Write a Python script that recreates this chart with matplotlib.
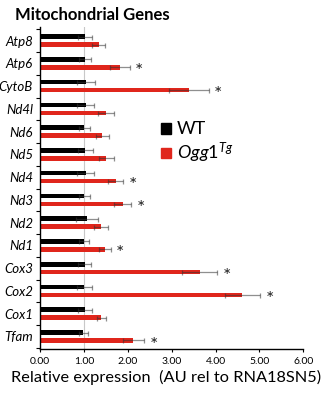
import numpy as np
import matplotlib
matplotlib.use("Agg")
import matplotlib.pyplot as plt
from matplotlib.patches import Patch

### DATA ###
genes = ["Atp8", "Atp6", "CytoB", "Nd4l", "Nd6", "Nd5", "Nd4",
         "Nd3", "Nd2", "Nd1", "Cox3", "Cox2", "Cox1", "Tfam"]
wt_mean = [1.02, 1.02, 1.05, 1.04, 1.01, 1.03, 1.04,
           1.01, 1.07, 1.00, 1.02, 1.01, 1.03, 0.99]
wt_err = [0.16, 0.14, 0.21, 0.19, 0.13, 0.17, 0.20,
          0.12, 0.25, 0.11, 0.15, 0.17, 0.16, 0.11]
tg_mean = [1.34, 1.82, 3.39, 1.51, 1.42, 1.51, 1.73,
           1.88, 1.40, 1.48, 3.64, 4.61, 1.40, 2.13]
tg_err = [0.15, 0.22, 0.45, 0.18, 0.15, 0.17, 0.17,
          0.20, 0.16, 0.13, 0.40, 0.40, 0.11, 0.25]
significant = ["Atp6", "CytoB", "Nd4", "Nd3", "Nd1", "Cox3", "Cox2", "Tfam"]
x_ticks = [0, 1, 2, 3, 4, 5, 6]

### STYLE ###
RED = "#e0261c"
plt.rcParams["font.family"] = ["Lato", "DejaVu Sans"]
plt.rcParams["mathtext.fontset"] = "custom"
plt.rcParams["mathtext.rm"] = "Lato"
plt.rcParams["mathtext.it"] = "Lato:italic"

fig = plt.figure(figsize=(3.21, 3.94), dpi=100)
ax = fig.add_axes([0.1246, 0.1142, 0.8204, 0.8173])

y = np.arange(len(genes))
h = 0.2
off = 0.175

ax.axvline(1.0, color="#c8c8c8", lw=0.8, zorder=0)

ax.barh(y - off, wt_mean, height=h, color="black", zorder=2)
ax.barh(y + off, tg_mean, height=h, color=RED, zorder=2)
ax.errorbar(wt_mean, y - off, xerr=wt_err, fmt="none", ecolor="#333333",
            alpha=0.55, elinewidth=0.9, capsize=1.8, capthick=0.9, zorder=3)
ax.errorbar(tg_mean, y + off, xerr=tg_err, fmt="none", ecolor="#333333",
            alpha=0.55, elinewidth=0.9, capsize=1.8, capthick=0.9, zorder=3)

# significance stars
for i, g in enumerate(genes):
    if g in significant:
        ax.text(tg_mean[i] + tg_err[i] + 0.22, y[i] + off + 0.2, "*",
                ha="center", va="center", fontsize=14, color="#222222")

ax.set_ylim(len(genes) - 0.45, -0.6)
ax.set_xlim(0, 6)

ax.set_yticks(y)
ax.set_yticklabels(genes, fontstyle="italic", fontsize=9.5)
ax.set_yticks(np.arange(len(genes) + 1) - 0.5, minor=True)
ax.tick_params(axis="y", which="major", length=0, pad=5)
ax.tick_params(axis="y", which="minor", length=3, width=0.8, direction="out")

ax.set_xticks(x_ticks)
ax.set_xticklabels([f"{v:.2f}" for v in x_ticks], fontsize=7.5)
ax.tick_params(axis="x", length=2.5, width=0.8, pad=3)

for s in ["top", "right"]:
    ax.spines[s].set_visible(False)
ax.spines["left"].set_linewidth(1.0)
ax.spines["bottom"].set_linewidth(1.0)

fig.text(0.047, 0.962, "Mitochondrial Genes", fontsize=12, fontweight="bold",
         ha="left", va="center")
fig.text(0.516, 0.041, "Relative expression  (AU rel to RNA18SN5)",
         fontsize=11.8, ha="center", va="center")

handles = [Patch(color="black"), Patch(color=RED)]
labels = ["WT", r"$\mathit{Ogg1}^{\mathit{Tg}}$"]
fig.legend(handles, labels, loc="upper left", bbox_to_anchor=(0.48, 0.71),
           frameon=False, fontsize=13, handlelength=0.55, handleheight=0.55,
           handletextpad=0.3, labelspacing=0.2, borderaxespad=0)

fig.savefig("out.png", dpi=100)
